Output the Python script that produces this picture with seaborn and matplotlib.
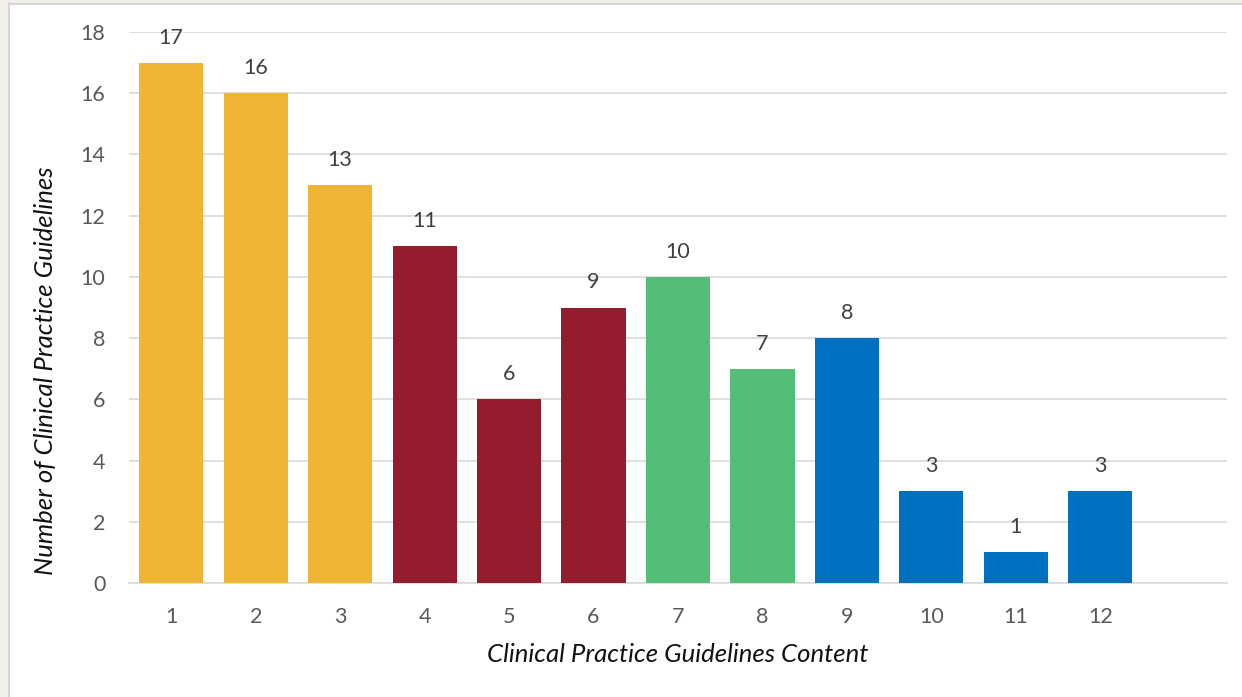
import matplotlib
matplotlib.use("Agg")
import matplotlib.pyplot as plt
import seaborn as sns
import pandas as pd
from matplotlib.patches import Rectangle

# Counts of guidelines per content item
content_items = ["1", "2", "3", "4", "5", "6", "7", "8", "9", "10", "11", "12"]
guideline_counts = [17, 16, 13, 11, 6, 9, 10, 7, 8, 3, 1, 3]
item_groups = ["A", "A", "A", "B", "B", "B", "C", "C", "D", "D", "D", "D"]
group_colors = {"A": "#F0B434", "B": "#951B2F", "C": "#55BE76", "D": "#0070C1"}
y_ticks = [0, 2, 4, 6, 8, 10, 12, 14, 16, 18]

sns.set_theme(style="white")
plt.rcParams["font.family"] = ["Lato", "DejaVu Sans"]

df = pd.DataFrame({"item": content_items, "count": guideline_counts, "group": item_groups})

fig = plt.figure(figsize=(12.42, 6.97), dpi=100)
fig.patch.set_facecolor("white")

# page frame: beige margin with a thin grey rule
fig.patches.append(Rectangle((0, 0), 8 / 1242, 1, transform=fig.transFigure,
                             facecolor="#F3F0EA", edgecolor="none", zorder=0))
fig.patches.append(Rectangle((0, 1 - 3 / 697), 1, 3 / 697, transform=fig.transFigure,
                             facecolor="#F3F0EA", edgecolor="none", zorder=0))
fig.lines.append(plt.Line2D([8.5 / 1242, 8.5 / 1242], [0, 1 - 3 / 697], transform=fig.transFigure,
                            color="#D6D6D6", lw=1.5))
fig.lines.append(plt.Line2D([8.5 / 1242, 1], [1 - 3.5 / 697, 1 - 3.5 / 697], transform=fig.transFigure,
                            color="#D6D6D6", lw=1.5))

ax = fig.add_axes([129 / 1242, (697 - 583) / 697, (1227 - 129) / 1242, (583 - 32) / 697])
ax.set_facecolor("white")

sns.barplot(data=df, x="item", y="count", hue="group", palette=group_colors,
            order=content_items, dodge=False, width=0.76, legend=False, ax=ax,
            saturation=1, linewidth=0, zorder=3)

ax.set_xlim(-0.5, 12.5)
ax.set_ylim(0, 18)
ax.set_yticks(y_ticks)
ax.yaxis.grid(True, color="#D9D9D9", lw=1.2, zorder=0)
ax.set_axisbelow(True)
for side in ["top", "right", "left"]:
    ax.spines[side].set_visible(False)
ax.spines["bottom"].set_color("#D9D9D9")
ax.spines["bottom"].set_linewidth(1.2)
ax.tick_params(axis="both", length=0, labelsize=15.5, labelcolor="#595959")
ax.tick_params(axis="y", pad=17)
ax.tick_params(axis="x", pad=17)

for i, v in enumerate(guideline_counts):
    ax.annotate(str(v), xy=(i, v), xytext=(0, 18), textcoords="offset points",
                ha="center", va="center", fontsize=15.5, color="#404040", zorder=5)

ax.set_xlabel("Clinical Practice Guidelines Content", fontsize=18.5, style="italic",
              color="#111111", labelpad=12)
ax.set_ylabel("Number of Clinical Practice Guidelines", fontsize=18.5, style="italic",
              color="#111111")
ax.yaxis.set_label_coords(-0.066, 0.385)

fig.savefig("out.png", dpi=100, facecolor="white")
